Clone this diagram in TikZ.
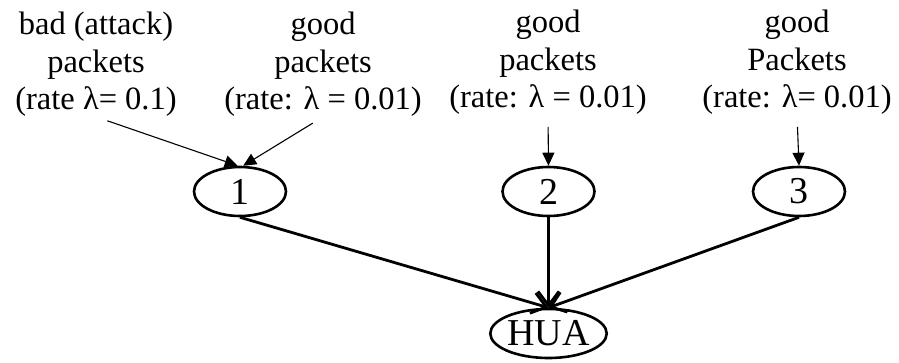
\documentclass[tikz,border=0pt]{standalone}
\usepackage{fontspec}
\setmainfont{Liberation Serif}
\usetikzlibrary{arrows.meta,shapes.geometric}

\begin{document}
\begin{tikzpicture}[x=1pt,y=1pt,
  lbl/.style={align=center,inner sep=0pt,anchor=north,
              font=\fontsize{32.5}{37.5}\selectfont},
  hop/.style={draw,ellipse,line width=2.6pt,minimum width=92pt,minimum height=49pt,
              inner sep=0pt,font=\fontsize{38}{40}\selectfont},
  feed/.style={line width=1.1pt,-{Triangle[length=13pt,width=12pt]},shorten <=12pt},
  route/.style={line width=2.8pt,-{Straight Barb[length=14pt,width=21pt]}}]
  \useasboundingbox (0,0) rectangle (899,362);

  % packet sources
  \node[lbl] (s1) at (96,350) {bad (attack)\\packets\\(rate λ= 0.1)};
  \node[lbl] (s2) at (323,350) {good\\packets\\(rate: λ = 0.01)};
  \node[lbl] (s3) at (548,352) {good\\packets\\(rate: λ = 0.01)};
  \node[lbl] (s4) at (797,352) {good\\Packets\\(rate: λ= 0.01)};

  % routers and the victim
  \node[hop] (n1) at (240,170.5) {1};
  \node[hop] (n2) at (548.5,170.5) {2};
  \node[hop] (n3) at (799,170.5) {3};
  \node[hop] (hua) at (548.5,28.5) {HUA};

  % incoming traffic
  \draw[feed] (s1.south) -- (n1.95);
  \draw[feed] (s2.south) -- (n1.83);
  \draw[feed] (s3.south) -- (n2.north);
  \draw[feed] (s4.south) -- (n3.north);

  % forwarding towards the HUA
  \draw[route] (n1.south) -- (hua.north);
  \draw[route] (n2.south) -- (hua.north);
  \draw[route] (n3.south) -- (hua.north);
\end{tikzpicture}
\end{document}
